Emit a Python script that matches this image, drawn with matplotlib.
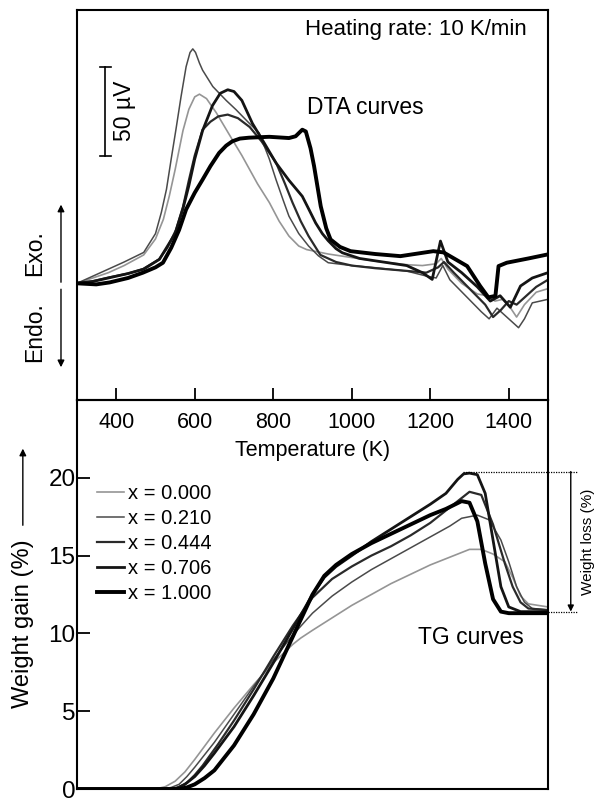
import matplotlib
matplotlib.use("Agg")
import matplotlib.pyplot as plt

plt.rcParams['font.family'] = ['Liberation Sans', 'DejaVu Sans']

# ---------------- data ----------------
compositions = ["x = 0.000", "x = 0.210", "x = 0.444", "x = 0.706", "x = 1.000"]

# DTA curves (Temperature K, signal in µV, arbitrary offset)
dta_T_000 = [300, 340, 380, 420, 470, 500, 520, 535, 550, 570, 585, 600, 612, 630, 655, 690, 720, 760, 790, 815, 840, 865, 885, 940, 1000, 1060, 1140, 1180, 1215, 1228, 1245, 1280, 1320, 1345, 1365, 1385, 1405, 1420, 1440, 1470, 1500]
dta_V_000 = [0, 3, 6, 10, 16, 25, 36, 49, 64, 86, 98, 105, 106.5, 104, 96, 83, 72, 56, 45.5, 35, 26.6, 21, 19, 16.5, 14.5, 12.5, 10.5, 10, 11, 14, 8, 0, -6, -7, -10, -9, -14, -19, -12, -5, -3]

dta_T_210 = [300, 340, 380, 420, 470, 500, 515, 528, 540, 552, 565, 578, 588, 595, 602, 612, 620, 646, 680, 705, 735, 764, 790, 807, 825, 840, 865, 890, 915, 940, 1000, 1060, 1140, 1190, 1215, 1232, 1250, 1290, 1330, 1350, 1370, 1390, 1410, 1425, 1440, 1460, 1500]
dta_V_210 = [0, 4, 8, 12, 17.4, 28, 40, 53, 70, 86.5, 105, 122, 130, 132, 130, 124, 120, 110.8, 103, 97.8, 91, 84.7, 70, 58.4, 47, 37.8, 28, 21, 15.5, 11.6, 10, 8.8, 6.9, 4.1, 3, 10, 2, -7, -16, -20, -14, -18, -22, -25, -20, -11, -9]

dta_T_444 = [300, 340, 383, 430, 468, 509, 530, 552, 570, 585, 600, 620, 640, 660, 684, 710, 740, 770, 807, 830, 849, 870, 890, 920, 960, 1000, 1060, 1140, 1190, 1220, 1235, 1260, 1300, 1340, 1360, 1380, 1400, 1420, 1440, 1470, 1500]
dta_V_444 = [0, 1.2, 3.4, 5.5, 8, 13.5, 20, 30, 43, 58, 72, 86.5, 91, 94, 95, 93, 88, 80, 68, 56, 45.5, 35, 26.6, 16, 12, 10, 8.5, 7, 6, 9, 12, 6, -3, -12, -19, -15, -10, -12, -8, -2, 2]

dta_T_706 = [300, 340, 380, 430, 470, 510, 550, 570, 585, 600, 620, 645, 665, 684, 700, 720, 747, 777, 807, 840, 874, 890, 908, 925, 940, 960, 976, 1020, 1080, 1140, 1180, 1205, 1226, 1245, 1280, 1320, 1353, 1378, 1404, 1430, 1460, 1500]
dta_V_706 = [0, 1, 3, 5.5, 8, 13.5, 28, 42, 55, 70, 86, 100, 107, 109, 108, 103, 90, 79, 67.8, 58, 49, 42, 34, 28, 24, 19.5, 17.2, 14, 12, 10, 6, 2.2, 23.8, 12, 6, -2, -10, -7, -13.5, -1.5, 3, 6]

dta_T_1000 = [300, 349, 383, 430, 468, 500, 519, 540, 560, 578, 600, 620, 640, 662, 680, 696, 715, 738, 790, 840, 857, 874, 883, 895, 904, 921, 935, 946, 970, 997, 1060, 1124, 1208, 1234, 1294, 1327, 1348, 1366, 1374, 1395, 1450, 1500]
dta_V_1000 = [0, -0.6, 0.5, 3, 6, 9, 11.6, 20, 30, 41.6, 51, 58.4, 66, 73.4, 77.5, 80, 81.5, 82, 82.5, 81.8, 82.8, 86.5, 85.5, 76, 66, 43.4, 31, 24.7, 20.5, 18.1, 16.5, 15.3, 18.1, 17.4, 9.7, -1.5, -7.9, -7.1, 9.7, 11.6, 14, 16.3]

# TG curves (Temperature K, weight gain %)
tg_T_000 = [300, 500, 525, 550, 575, 600, 650, 700, 750, 800, 850, 870, 900, 950, 1000, 1050, 1100, 1150, 1200, 1250, 1300, 1330, 1360, 1390, 1410, 1430, 1450, 1500]
tg_W_000 = [0, 0, 0.15, 0.5, 1.1, 1.9, 3.6, 5.2, 6.7, 8.1, 9.3, 9.7, 10.2, 11.0, 11.8, 12.5, 13.2, 13.8, 14.4, 14.9, 15.4, 15.4, 15.1, 14.6, 13.6, 12.4, 11.9, 11.7]

tg_T_210 = [300, 520, 540, 560, 580, 600, 650, 700, 750, 800, 850, 900, 950, 1000, 1050, 1100, 1150, 1200, 1250, 1280, 1320, 1350, 1380, 1400, 1420, 1440, 1460, 1500]
tg_W_210 = [0, 0, 0.1, 0.3, 0.8, 1.4, 3.0, 4.8, 6.6, 8.3, 9.9, 11.3, 12.4, 13.3, 14.1, 14.8, 15.5, 16.2, 16.9, 17.4, 17.6, 17.3, 16.0, 14.6, 13.0, 12.0, 11.6, 11.5]

tg_T_444 = [300, 540, 560, 580, 600, 620, 660, 700, 750, 800, 850, 900, 950, 1000, 1050, 1100, 1150, 1200, 1250, 1300, 1330, 1360, 1390, 1410, 1430, 1450, 1500]
tg_W_444 = [0, 0, 0.12, 0.4, 0.9, 1.5, 2.9, 4.4, 6.4, 8.5, 10.5, 12.3, 13.5, 14.3, 15.0, 15.6, 16.3, 17.1, 18.1, 19.1, 18.9, 17.0, 14.5, 13.0, 12.0, 11.6, 11.5]

tg_T_706 = [300, 550, 575, 600, 625, 650, 700, 750, 800, 850, 900, 930, 960, 1000, 1050, 1100, 1150, 1200, 1240, 1270, 1285, 1300, 1320, 1340, 1360, 1380, 1400, 1430, 1500]
tg_W_706 = [0, 0, 0.3, 0.8, 1.5, 2.3, 4.0, 6.0, 8.1, 10.3, 12.5, 13.6, 14.3, 15.0, 15.9, 16.7, 17.5, 18.3, 19.0, 19.9, 20.25, 20.3, 20.2, 19.0, 16.0, 13.0, 11.7, 11.4, 11.4]

tg_T_1000 = [300, 560, 580, 600, 625, 650, 700, 750, 800, 850, 900, 930, 960, 1000, 1050, 1100, 1150, 1200, 1240, 1280, 1300, 1320, 1340, 1360, 1380, 1400, 1500]
tg_W_1000 = [0, 0, 0.1, 0.3, 0.7, 1.2, 2.8, 4.8, 7.1, 9.8, 12.5, 13.7, 14.4, 15.1, 15.8, 16.4, 17.0, 17.6, 18.0, 18.5, 18.4, 17.2, 14.5, 12.2, 11.4, 11.3, 11.3]

x_ticks = [400, 600, 800, 1000, 1200, 1400]
y_ticks = [0, 5, 10, 15, 20]
weight_loss_top = 20.4
weight_loss_bottom = 11.4

# ---------------- style ----------------
colors = ['#959595', '#4a4a4a', '#2a2a2a', '#141414', '#000000']
widths = [1.2, 1.1, 1.6, 2.0, 2.8]

dta_T = [dta_T_000, dta_T_210, dta_T_444, dta_T_706, dta_T_1000]
dta_V = [dta_V_000, dta_V_210, dta_V_444, dta_V_706, dta_V_1000]
tg_T = [tg_T_000, tg_T_210, tg_T_444, tg_T_706, tg_T_1000]
tg_W = [tg_W_000, tg_W_210, tg_W_444, tg_W_706, tg_W_1000]

fig = plt.figure(figsize=(5.98, 8.01), dpi=100)
L, W = 77 / 598, 471 / 598
ax2 = fig.add_axes([L, 12 / 801, W, 389 / 801])
ax1 = fig.add_axes([L, 401 / 801, W, 390 / 801])
ax1.set_zorder(3)
ax1.patch.set_visible(False)

for ax in (ax1, ax2):
    for s in ax.spines.values():
        s.set_linewidth(1.5)

# ---- top: DTA ----
for T, V, c, lw in zip(dta_T, dta_V, colors, widths):
    ax1.plot(T, V, color=c, lw=lw, solid_joinstyle='round', solid_capstyle='round')
ax1.set_xlim(300, 1500)
ax1.set_ylim(-65.7, 153.9)
ax1.set_yticks([])
ax1.set_xticks(x_ticks)
ax1.tick_params(axis='x', direction='in', length=9, width=1.3, pad=9, labelsize=15.5)
ax1.set_xlabel('Temperature (K)', fontsize=15.5, labelpad=5)

ax1.text(0.955, 0.949, 'Heating rate: 10 K/min', transform=ax1.transAxes,
         ha='right', va='center', fontsize=16)
ax1.text(0.488, 0.749, 'DTA curves', transform=ax1.transAxes,
         ha='left', va='center', fontsize=16.5)

# 50 µV scale bar
bar_x, bar_y0 = 372, 71.9
ax1.plot([bar_x, bar_x], [bar_y0, bar_y0 + 50], color='black', lw=1.2)
ax1.plot([bar_x - 14, bar_x + 14], [bar_y0, bar_y0], color='black', lw=1.2)
ax1.plot([bar_x - 14, bar_x + 14], [bar_y0 + 50, bar_y0 + 50], color='black', lw=1.2)
ax1.text(420, bar_y0 + 25, '50 µV', rotation=90, ha='center', va='center', fontsize=16.5)

# Exo / Endo
ax1.text(-0.089, 0.376, 'Exo.', transform=ax1.transAxes, rotation=90,
         ha='center', va='center', fontsize=16.5)
ax1.text(-0.089, 0.174, 'Endo.', transform=ax1.transAxes, rotation=90,
         ha='center', va='center', fontsize=16.5)
ax1.annotate('', xy=(-0.034, 0.501), xytext=(-0.034, 0.302), xycoords='axes fraction',
             arrowprops=dict(arrowstyle='-|>', lw=1.0, color='black', mutation_scale=10,
                             shrinkA=0, shrinkB=0))
ax1.annotate('', xy=(-0.034, 0.084), xytext=(-0.034, 0.284), xycoords='axes fraction',
             arrowprops=dict(arrowstyle='-|>', lw=1.0, color='black', mutation_scale=10,
                             shrinkA=0, shrinkB=0))

# ---- bottom: TG ----
for T, Wt, c, lw, lab in zip(tg_T, tg_W, colors, widths, compositions):
    ax2.plot(T, Wt, color=c, lw=lw, label=lab, solid_joinstyle='round')
ax2.set_xlim(300, 1500)
ax2.set_ylim(0, 25)
ax2.set_xticks([])
ax2.set_yticks(y_ticks)
ax2.tick_params(axis='y', direction='in', length=9, width=1.3, pad=1, labelsize=17.5)

leg = ax2.legend(loc='upper left', bbox_to_anchor=(0.042, 0.785), frameon=False,
                 fontsize=14.5, handlelength=1.35, handletextpad=0.2, labelspacing=0.3,
                 borderpad=0, borderaxespad=0)

ax2.text(0.837, 0.389, 'TG curves', transform=ax2.transAxes,
         ha='center', va='center', fontsize=16.5)

ax2.text(-0.115, 0.425, 'Weight gain (%)', transform=ax2.transAxes, rotation=90,
         ha='center', va='center', fontsize=17)
ax2.annotate('', xy=(-0.115, 0.875), xytext=(-0.115, 0.678), xycoords='axes fraction',
             arrowprops=dict(arrowstyle='-|>', lw=1.0, color='black', mutation_scale=10,
                             shrinkA=0, shrinkB=0))

# Weight loss annotation
ax2.plot([1284, 1576], [weight_loss_top, weight_loss_top], color='black', lw=0.9,
         ls=(0, (1, 1)), clip_on=False)
ax2.plot([1500, 1576], [weight_loss_bottom, weight_loss_bottom], color='black', lw=0.9,
         ls=(0, (1, 1)), clip_on=False)
ax2.annotate('', xy=(1558, weight_loss_bottom), xytext=(1558, weight_loss_top),
             xycoords='data', annotation_clip=False,
             arrowprops=dict(arrowstyle='-|>', lw=1.0, color='black', mutation_scale=9,
                             shrinkA=0, shrinkB=0))
ax2.text(1601, 15.9, 'Weight loss (%)', rotation=90, ha='center', va='center',
         fontsize=11, clip_on=False)

fig.savefig('out.png', dpi=100)
